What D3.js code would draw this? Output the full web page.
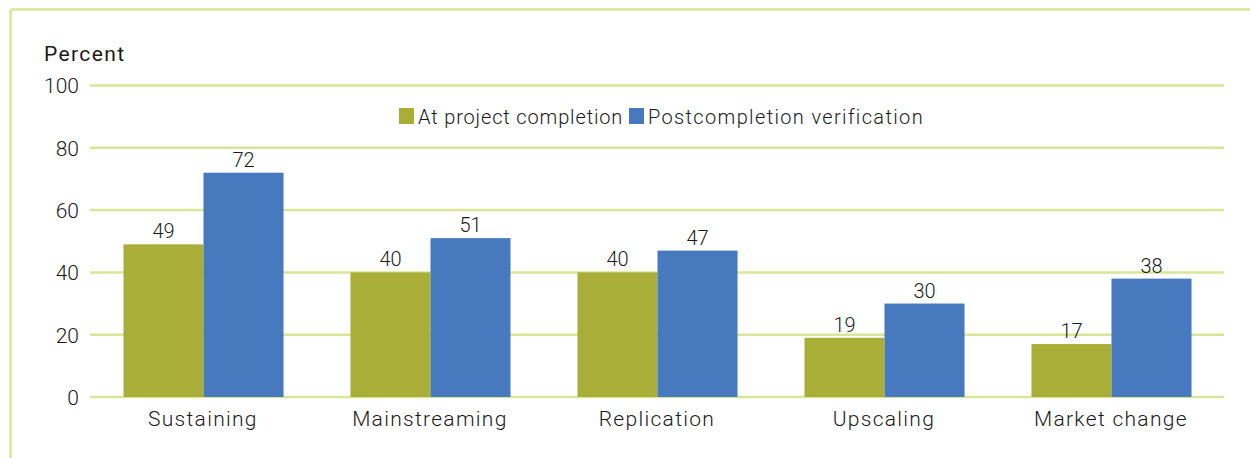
<!DOCTYPE html>
<html><head><meta charset="utf-8">
<script src="https://cdn.jsdelivr.net/npm/d3@7/dist/d3.min.js"></script>
<style>
html,body{margin:0;padding:0;background:#fff;}
text{font-family:"Roboto","DejaVu Sans",sans-serif;fill:#1a1a1a;font-weight:300;}
</style></head>
<body>
<svg id="chart" width="1250" height="458"></svg>
<script>
const categories = ["Sustaining","Mainstreaming","Replication","Upscaling","Market change"];
const seriesNames = ["At project completion","Postcompletion verification"];
const atCompletion = [49,40,40,19,17];
const postVerification = [72,51,47,30,38];
const yTicks = [0,20,40,60,80,100];
const colors = ["#a9ae38","#4779be"];
const gridColor = "#d8e698";

const svg = d3.select("#chart");
// frame
svg.append("line").attr("x1",10.5).attr("x2",1250).attr("y1",9.5).attr("y2",9.5).attr("stroke",gridColor).attr("stroke-width",2.5);
svg.append("line").attr("x1",10.5).attr("x2",10.5).attr("y1",9.5).attr("y2",458).attr("stroke",gridColor).attr("stroke-width",2.5);

const x0 = d3.scaleBand().domain(categories).range([90,1225]).paddingInner(0.295).paddingOuter(0.1475);
const x1 = d3.scaleBand().domain([0,1]).range([0,x0.bandwidth()]);
const y = d3.scaleLinear().domain([0,100]).range([397,85.5]);

// grid
svg.append("g").selectAll("line").data(yTicks).join("line")
  .attr("x1",90).attr("x2",1224).attr("y1",d=>y(d)).attr("y2",d=>y(d))
  .attr("stroke",gridColor).attr("stroke-width",2.5);

// y axis
const yAxis = d3.axisLeft(y).tickValues(yTicks).tickSize(0).tickPadding(0);
const gy = svg.append("g").attr("transform","translate(79,0)").call(yAxis);
gy.select(".domain").remove();
gy.selectAll("text").attr("font-size",21).attr("fill","#1a1a1a").style("font-family","Roboto, DejaVu Sans, sans-serif").style("font-weight",300).attr("dy","0.35em");

svg.append("text").attr("x",44).attr("y",61).attr("font-size",21).style("font-weight",400).attr("letter-spacing","1.4px").text("Percent");

const data = categories.map((c,i)=>({c, v:[atCompletion[i],postVerification[i]]}));
const groups = svg.append("g").selectAll("g").data(data).join("g")
  .attr("transform",d=>`translate(${x0(d.c)},0)`);
groups.selectAll("rect").data(d=>d.v).join("rect")
  .attr("x",(d,i)=>x1(i)).attr("width",x1.bandwidth())
  .attr("y",d=>y(d)).attr("height",d=>y(0)-y(d))
  .attr("fill",(d,i)=>colors[i]);
groups.selectAll("text.val").data(d=>d.v).join("text").attr("class","val")
  .attr("x",(d,i)=>x1(i)+x1.bandwidth()/2).attr("y",d=>y(d)-6)
  .attr("text-anchor","middle").attr("font-size",20).text(d=>d);

// x axis
const xAxis = d3.axisBottom(x0).tickSize(0).tickPadding(0);
const gx = svg.append("g").attr("transform",`translate(0,${y(0)})`).call(xAxis);
gx.select(".domain").remove();
gx.selectAll("text").attr("font-size",21).attr("fill","#1a1a1a").style("font-family","Roboto, DejaVu Sans, sans-serif").style("font-weight",300).attr("dy","1.4em").attr("dx","-0.6px").attr("letter-spacing","1.3px");

// legend
const legX = [399,629];
const leg = svg.append("g");
seriesNames.forEach((n,i)=>{
  leg.append("rect").attr("x",legX[i]).attr("y",108).attr("width",15).attr("height",16).attr("fill",colors[i]);
  leg.append("text").attr("x",legX[i]+19).attr("y",124).attr("font-size",20).attr("letter-spacing",i===0?"0.85px":"1.35px").text(n);
});
</script>
</body></html>
